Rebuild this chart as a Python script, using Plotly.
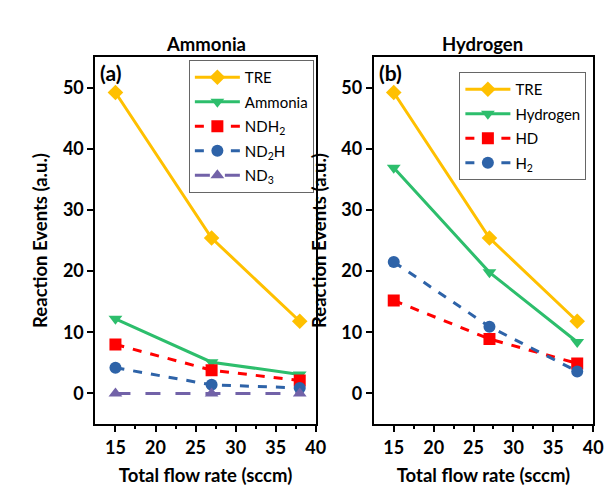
import plotly.graph_objects as go

flow = [15, 27, 38]

# Ammonia panel
tre = [49.2, 25.4, 11.8]
ammonia = [12.2, 5.1, 3.1]
ndh2 = [8.0, 3.8, 2.1]
nd2h = [4.2, 1.4, 0.9]
nd3 = [0.0, 0.0, 0.0]

# Hydrogen panel
tre_h = [49.2, 25.4, 11.8]
hydrogen = [36.9, 19.8, 8.4]
hd = [15.2, 8.9, 4.9]
h2 = [21.5, 10.9, 3.6]

x_ticks = [15, 20, 25, 30, 35, 40]
y_ticks = [0, 10, 20, 30, 40, 50]

C_TRE = "#FFC000"
C_GRN = "#2DBE6C"
C_RED = "#FF0000"
C_BLU = "#2E63A8"
C_PUR = "#7262A8"

FONT = "Lato"

fig = go.Figure()

def add(x, y, name, color, symbol, dash, xa, ya, leg, grp):
    fig.add_trace(go.Scatter(
        x=x, y=y, name=name, mode="lines+markers",
        line=dict(color=color, width=3, dash=dash),
        marker=dict(color=color, symbol=symbol, size=12),
        xaxis=xa, yaxis=ya, legend=leg, legendgroup=grp,
    ))

add(flow, tre, "TRE", C_TRE, "diamond", "solid", "x", "y", "legend", "a1")
add(flow, ammonia, "Ammonia", C_GRN, "triangle-down", "solid", "x", "y", "legend", "a2")
add(flow, ndh2, "NDH<sub>2</sub>", C_RED, "square", "dash", "x", "y", "legend", "a3")
add(flow, nd2h, "ND<sub>2</sub>H", C_BLU, "circle", "dash", "x", "y", "legend", "a4")
add(flow, nd3, "ND<sub>3</sub>", C_PUR, "triangle-up", "longdash", "x", "y", "legend", "a5")

add(flow, tre_h, "TRE", C_TRE, "diamond", "solid", "x2", "y2", "legend2", "b1")
add(flow, hydrogen, "Hydrogen", C_GRN, "triangle-down", "solid", "x2", "y2", "legend2", "b2")
add(flow, hd, "HD", C_RED, "square", "dash", "x2", "y2", "legend2", "b3")
add(flow, h2, "H<sub>2</sub>", C_BLU, "circle", "dash", "x2", "y2", "legend2", "b4")

W, H = 613, 489
def fx(px):
    return px / W
def fy(py):
    return (H - py) / H

tickfont = dict(family=FONT, size=18, color="black", weight="bold")
titlefont = dict(family=FONT, size=18.5, color="black", weight="bold")

xcommon = dict(range=[12.5, 40], tickvals=x_ticks, ticks="outside", ticklen=6, tickwidth=1.5,
               tickcolor="black", showline=True, linewidth=2, linecolor="black", mirror=True,
               showgrid=False, zeroline=False, tickfont=tickfont,
               minor=dict(tickvals=[17.5, 22.5, 27.5, 32.5, 37.5], ticks="outside", ticklen=3,
                          tickwidth=1.5, tickcolor="black"),
               title=dict(text="Total flow rate (sccm)", font=titlefont, standoff=12))
ycommon = dict(range=[-5, 55], tickvals=y_ticks, ticks="outside", ticklen=6, tickwidth=1.5,
               tickcolor="black", showline=True, linewidth=2, linecolor="black", mirror=True,
               showgrid=False, zeroline=False, tickfont=tickfont,
               title=dict(text="Reaction Events (a.u.)", font=titlefont, standoff=10))

legcommon = dict(bgcolor="white", bordercolor="#666666", borderwidth=1,
                 font=dict(family=FONT, size=15, color="black"),
                 xanchor="left", yanchor="top", tracegroupgap=2, itemwidth=45)

fig.update_layout(
    width=W, height=H,
    margin=dict(l=0, r=0, t=0, b=0),
    paper_bgcolor="white", plot_bgcolor="white",
    xaxis=dict(domain=[fx(97), fx(321)], anchor="y", **xcommon),
    yaxis=dict(domain=[fy(424), fy(57)], anchor="x", **ycommon),
    xaxis2=dict(domain=[fx(380), fx(603)], anchor="y2", **xcommon),
    yaxis2=dict(domain=[fy(424), fy(57)], anchor="x2", **ycommon),
    legend=dict(x=fx(192), y=fy(60), **legcommon),
    legend2=dict(x=fx(467), y=fy(72), **legcommon),
    annotations=[
        dict(text="Ammonia", x=fx(209), y=fy(44), xref="paper", yref="paper",
             xanchor="center", yanchor="middle", showarrow=False,
             font=dict(family=FONT, size=18.5, color="black", weight="bold")),
        dict(text="Hydrogen", x=fx(491), y=fy(44), xref="paper", yref="paper",
             xanchor="center", yanchor="middle", showarrow=False,
             font=dict(family=FONT, size=18.5, color="black", weight="bold")),
        dict(text="(a)", x=fx(100), y=fy(58), xref="paper", yref="paper", xanchor="left",
             yanchor="top", showarrow=False,
             font=dict(family=FONT, size=21, color="black", weight="bold")),
        dict(text="(b)", x=fx(383), y=fy(58), xref="paper", yref="paper", xanchor="left",
             yanchor="top", showarrow=False,
             font=dict(family=FONT, size=21, color="black", weight="bold")),
    ],
)

fig.write_html("out.html")
